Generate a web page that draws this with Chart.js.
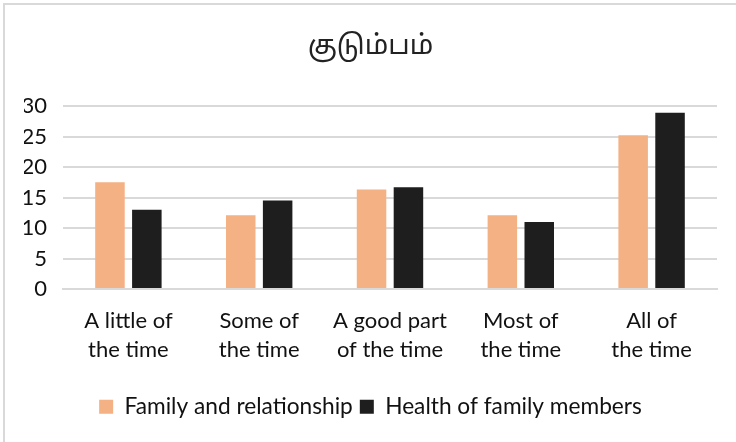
<!DOCTYPE html>
<html>
<head>
<meta charset="utf-8">
<script src="https://cdn.jsdelivr.net/npm/chart.js@4"></script>
<style>
  html, body { margin: 0; padding: 0; background: #fff; }
  #wrap {
    position: absolute; left: 3px; top: 3px; width: 733px; height: 439px;
    border-left: 2px solid #d9d9d9; border-top: 2px solid #d9d9d9;
    box-sizing: border-box;
  }
  #box { position: absolute; left: 0; top: 0; width: 736px; height: 442px; }
</style>
</head>
<body>
<div id="wrap"></div>
<div id="box"><canvas id="myGraph"></canvas></div>
<script>
let title = 'குடும்பம்';
let categories = [
  ['A little of', 'the time'],
  ['Some of', 'the time'],
  ['A good part', 'of the time'],
  ['Most of', 'the time'],
  ['All of', 'the time']
];
let familyRelationship = [17.5, 12.1, 16.3, 12.1, 25.2];
let familyHealth = [13.0, 14.5, 16.7, 11.0, 28.9];
let yTicks = [0, 5, 10, 15, 20, 25, 30];

const font = "Lato, 'Open Sans', 'Noto Sans', sans-serif";

function totalGraph() {
  const ctx = document.getElementById('myGraph').getContext('2d');
  const data = {
    labels: categories,
    datasets: [{
      label: 'Family and relationship',
      data: familyRelationship,
      backgroundColor: '#f4b183',
      categoryPercentage: 0.564,
      barPercentage: 0.8
    },
    {
      label: 'Health of family members',
      data: familyHealth,
      backgroundColor: '#1e1e1e',
      categoryPercentage: 0.564,
      barPercentage: 0.8
    }]
  };
  new Chart(ctx, {
    type: 'bar',
    data: data,
    options: {
      responsive: true,
      maintainAspectRatio: false,
      animation: false,
      layout: { padding: { left: 24, right: 19, top: 32, bottom: 14 } },
      plugins: {
        title: {
          display: true,
          text: title,
          color: '#222',
          font: { family: "'Noto Sans Tamil', 'Noto Sans', sans-serif", size: 27.5, weight: 'normal' },
          padding: { top: 0, bottom: 41 }
        },
        legend: {
          position: 'bottom',
          labels: {
            color: '#111',
            font: { family: font, size: 22.7 },
            boxWidth: 14,
            boxHeight: 14,
            padding: 7
          }
        },
        tooltip: { enabled: false }
      },
      scales: {
        x: {
          grid: { display: false },
          border: { display: true, color: '#d9d9d9', width: 2 },
          afterFit: axis => { axis.height += 14; },
          ticks: {
            color: '#111',
            font: { family: font, size: 22, lineHeight: 1.3 },
            padding: 10,
            maxRotation: 0,
            autoSkip: false
          }
        },
        y: {
          min: 0,
          max: 30,
          afterBuildTicks: axis => { axis.ticks = yTicks.map(v => ({ value: v })); },
          afterFit: axis => { axis.width = 39; },
          grid: { color: '#d9d9d9', lineWidth: 2, drawTicks: false },
          border: { display: false },
          ticks: {
            color: '#111',
            font: { family: font, size: 22 },
            padding: 16
          }
        }
      }
    }
  });
}
totalGraph();
</script>
</body>
</html>
